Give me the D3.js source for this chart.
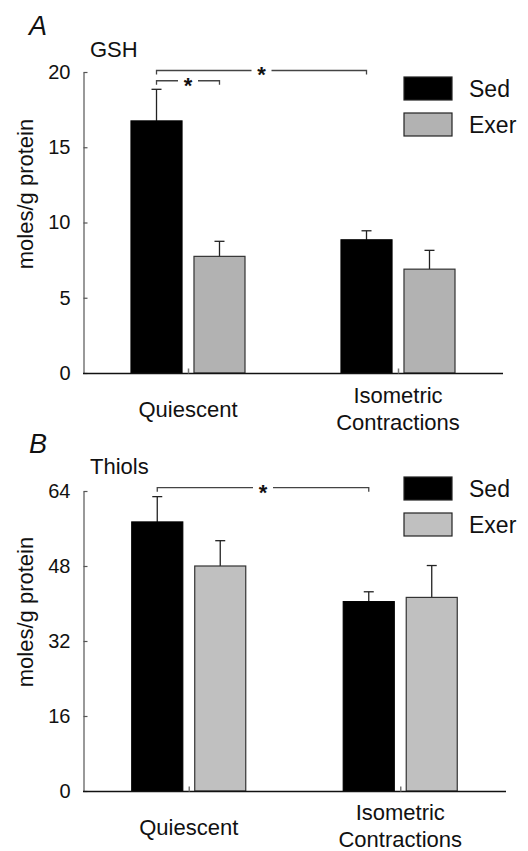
<!DOCTYPE html>
<html>
<head>
<meta charset="utf-8">
<script src="https://cdn.jsdelivr.net/npm/d3@7"></script>
<style>
html,body{margin:0;padding:0;background:#fff;}
svg text{font-family:"Liberation Sans",Arial,Helvetica,sans-serif;fill:#111;}
</style>
</head>
<body>
<svg id="chart" width="528" height="851"></svg>
<script>
// ---- data ----
const categories = ["Quiescent", "Isometric\nContractions"];
const series = ["Sed", "Exer"];
// Panel A: GSH
const gshSed = [16.75, 8.85];
const gshSedErr = [2.1, 0.6];
const gshExer = [7.75, 6.9];
const gshExerErr = [1.0, 1.25];
const gshTicks = [0, 5, 10, 15, 20];
// Panel B: Thiols
const thiolSed = [57.4, 40.4];
const thiolSedErr = [5.4, 2.1];
const thiolExer = [48.0, 41.3];
const thiolExerErr = [5.4, 6.8];
const thiolTicks = [0, 16, 32, 48, 64];

const FONT = '"Liberation Sans",Arial,Helvetica,sans-serif';
const svg = d3.select("#chart");

function panel(cfg) {
  const g = svg.append("g");
  const y = d3.scaleLinear().domain([0, cfg.ticks[cfg.ticks.length - 1]]).range([cfg.y0, cfg.y1]);
  const x = d3.scalePoint().domain(categories).range([83, cfg.xEnd]).padding(0.5);
  const x1 = d3.scaleBand().domain(series).range([-57, 57]).paddingInner(0.19);

  const rows = [];
  categories.forEach((c, i) => {
    rows.push({cat: c, s: "Sed", v: cfg.sed[i], e: cfg.sedErr[i]});
    rows.push({cat: c, s: "Exer", v: cfg.exer[i], e: cfg.exerErr[i]});
  });
  const fill = s => s === "Sed" ? "#000" : cfg.exerColor;

  // error bars (upper only)
  rows.forEach(d => {
    const cx = x(d.cat) + x1(d.s) + x1.bandwidth() / 2;
    g.append("line").attr("x1", cx).attr("x2", cx).attr("y1", y(d.v)).attr("y2", y(d.v + d.e))
      .attr("stroke", "#222").attr("stroke-width", 1.3);
    g.append("line").attr("x1", cx - 5).attr("x2", cx + 5).attr("y1", y(d.v + d.e)).attr("y2", y(d.v + d.e))
      .attr("stroke", "#222").attr("stroke-width", 1.3);
  });

  // bars
  g.selectAll("rect.bar").data(rows).join("rect").attr("class", "bar")
    .attr("x", d => x(d.cat) + x1(d.s))
    .attr("width", x1.bandwidth())
    .attr("y", d => y(d.v))
    .attr("height", d => y(0) - y(d.v))
    .attr("fill", d => fill(d.s))
    .attr("stroke", d => d.s === "Sed" ? "#000" : "#333")
    .attr("stroke-width", 1.2);

  // y axis
  const ya = g.append("g").attr("transform", "translate(83.5,0)")
    .call(d3.axisLeft(y).tickValues(cfg.ticks).tickSize(-4).tickSizeOuter(0).tickPadding(13));
  ya.select(".domain").attr("stroke", "#555").attr("stroke-width", 1.2);
  ya.selectAll(".tick line").attr("stroke", "#555").attr("stroke-width", 1.2);
  ya.selectAll(".tick text").style("font-family", FONT).style("font-size", "20px").attr("fill", "#111");

  // x axis
  const xa = g.append("g").attr("transform", `translate(0,${y(0) + 0.5})`)
    .call(d3.axisBottom(x).tickSize(-5).tickSizeOuter(0).tickFormat(""));
  xa.select(".domain").attr("stroke", "#111").attr("stroke-width", 1.5).attr("d", `M83,0H${cfg.xEnd}`);
  xa.selectAll(".tick line").attr("stroke", "#777").attr("stroke-width", 1.5);

  // category labels
  categories.forEach((c, i) => {
    const lines = c.split("\n");
    const t = g.append("text").attr("text-anchor", "middle").style("font-size", "22px");
    if (lines.length === 1) {
      t.append("tspan").attr("x", x(c)).attr("y", cfg.catY1).text(lines[0]);
    } else {
      lines.forEach((l, j) => t.append("tspan").attr("x", x(c)).attr("y", cfg.catY2 + j * 27).text(l));
    }
  });

  // y label
  g.append("text").attr("transform", `translate(${cfg.ylabX},${cfg.ylabY}) rotate(-90)`)
    .attr("text-anchor", "middle").style("font-size", "22px").text("moles/g protein");

  // panel letter and title
  g.append("text").attr("x", 29).attr("y", cfg.letterY).style("font-size", "27px").style("font-style", "italic").text(cfg.letter);
  g.append("text").attr("x", 90).attr("y", cfg.titleY).style("font-size", "22px").text(cfg.title);

  // legend
  series.forEach((s, i) => {
    const ly = cfg.legY + i * 36;
    g.append("rect").attr("x", 404).attr("y", ly).attr("width", 48).attr("height", 23)
      .attr("fill", fill(s)).attr("stroke", "#222").attr("stroke-width", 1.2);
    g.append("text").attr("x", 469).attr("y", ly + 20).style("font-size", "23px").text(s);
  });

  // significance brackets
  const cxOf = (c, s) => x(c) + x1(s) + x1.bandwidth() / 2;
  cfg.brackets.forEach(b => {
    const xa0 = cxOf(b.from[0], b.from[1]), xb0 = cxOf(b.to[0], b.to[1]);
    const yy = y(b.level);
    const mid = (xa0 + xb0) / 2;
    g.append("path")
      .attr("d", `M${xa0},${yy + 4}V${yy}H${mid - 10}M${mid + 10},${yy}H${xb0}V${yy + 4}`)
      .attr("fill", "none").attr("stroke", "#444").attr("stroke-width", 1.3);
    g.append("text").attr("x", mid).attr("y", yy + 12).attr("text-anchor", "middle")
      .style("font-size", "22px").style("font-weight", "bold").text("*");
  });
}

panel({
  letter: "A", letterY: 35, title: "GSH", titleY: 57,
  ticks: gshTicks, y0: 373, y1: 72, xEnd: 503,
  sed: gshSed, sedErr: gshSedErr, exer: gshExer, exerErr: gshExerErr,
  exerColor: "#b2b2b2", catY1: 417, catY2: 403, ylabX: 33, ylabY: 194, legY: 77,
  brackets: [
    {from: [categories[0], "Sed"], to: [categories[1], "Sed"], level: 20.1},
    {from: [categories[0], "Sed"], to: [categories[0], "Exer"], level: 19.42}
  ]
});

panel({
  letter: "B", letterY: 453, title: "Thiols", titleY: 474,
  ticks: thiolTicks, y0: 791, y1: 491, xEnd: 506,
  sed: thiolSed, sedErr: thiolSedErr, exer: thiolExer, exerErr: thiolExerErr,
  exerColor: "#c0c0c0", catY1: 835, catY2: 820, ylabX: 33, ylabY: 612, legY: 477,
  brackets: [
    {from: [categories[0], "Sed"], to: [categories[1], "Sed"], level: 64.7}
  ]
});
</script>
</body>
</html>
